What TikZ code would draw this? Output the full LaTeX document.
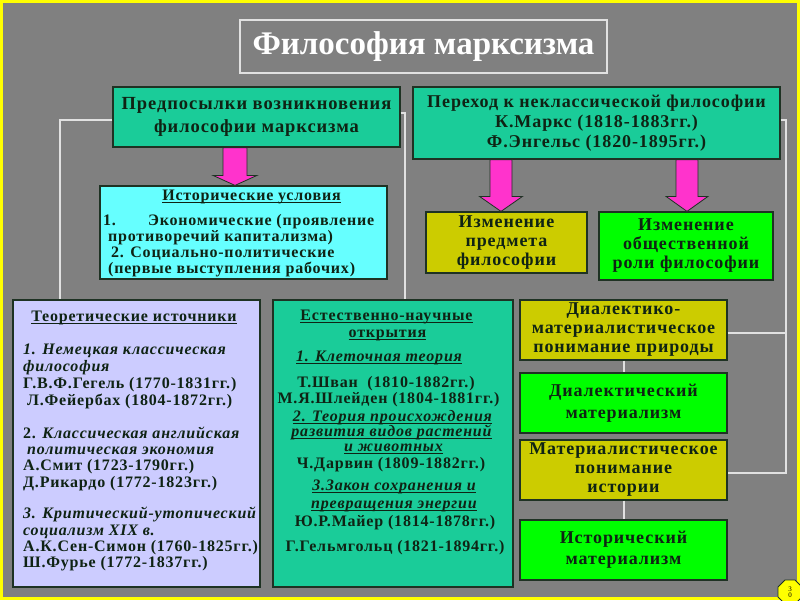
\documentclass[tikz,border=0pt]{standalone}
\usepackage{fontspec}
\setmainfont{Liberation Serif}[LetterSpace=5]
\newfontfamily\titlefont{Liberation Serif}
\usetikzlibrary{calc,shapes.geometric}
\definecolor{bg}{RGB}{128,128,128}
\definecolor{teal1}{RGB}{26,204,153}
\definecolor{cyan1}{RGB}{102,255,255}
\definecolor{olive1}{RGB}{204,204,0}
\definecolor{green1}{RGB}{0,255,0}
\definecolor{lav1}{RGB}{204,204,255}
\definecolor{pink1}{RGB}{255,51,204}
\definecolor{txt}{RGB}{15,35,20}
\definecolor{boxline}{RGB}{30,50,35}
\definecolor{connc}{RGB}{225,225,225}
\definecolor{frame1}{RGB}{255,255,0}
\newcommand\thul[1]{\leavevmode\setbox0\hbox{#1}\rlap{\vrule width\wd0 height -1.6pt depth 3pt}\box0}
\newcommand\fatarrow[6]{\draw[parrow] ($(#1.south -| #3)+(-#4,0)$) -- ($(#2.north -| #3)+(-#4,-#6)$) -- ($(#2.north -| #3)+(-#5,-#6)$) -- (#2.north -| #3) -- ($(#2.north -| #3)+(#5,-#6)$) -- ($(#2.north -| #3)+(#4,-#6)$) -- ($(#1.south -| #3)+(#4,0)$) -- cycle;}
\begin{document}
\begin{tikzpicture}[x=1pt,y=-1pt,
 box/.style={draw=boxline,line width=1.2pt,inner sep=0pt,align=center,text=txt,font=\bfseries\fontsize{18}{19}\selectfont},
 conn/.style={draw=connc,line width=2pt},
 parrow/.style={fill=pink1,draw=boxline,line width=0.8pt,line join=miter},
 tl/.style={inner sep=0pt,text=txt,font=\bfseries\fontsize{16}{16}\selectfont},
]
\useasboundingbox (0,0) rectangle (800,600);
\fill[bg] (0,0) rectangle (800,600);
\draw[frame1,line width=3pt] (1.5,1.5) rectangle (798.5,598.5);

% title
\node[draw=connc,line width=2pt,minimum width=367pt,minimum height=53pt,inner sep=0pt,text=white,font=\titlefont\bfseries\fontsize{33}{33}\selectfont] (title) at (423.5,46.5) {Философия марксизма};

% upper boxes
\node[box,fill=teal1,minimum width=287pt,minimum height=60pt,font=\bfseries\fontsize{18.5}{23}\selectfont] (pred) at (256.5,117) {Предпосылки возникновения\\философии марксизма};
\node[box,fill=teal1,minimum width=367pt,minimum height=72pt,font=\bfseries\fontsize{18}{20}\selectfont] (trans) at (596.5,123) {Переход к неклассической философии\\К.Маркс (1818-1883гг.)\\Ф.Энгельс (1820-1895гг.)};
\node[box,fill=cyan1,minimum width=287pt,minimum height=93pt] (hist) at (243.5,232.5) {};
\node[box,fill=olive1,minimum width=161pt,minimum height=61pt] (chsubj) at (506.5,242.5) {Изменение\\предмета\\философии};
\node[box,fill=green1,minimum width=174pt,minimum height=68pt] (chrole) at (686,246) {Изменение\\общественной\\роли философии};

% lower boxes
\node[box,fill=lav1,minimum width=247pt,minimum height=287pt] (theor) at (136.5,443.5) {};
\node[box,fill=teal1,minimum width=240pt,minimum height=287pt] (nat) at (393,443.5) {};
\node[box,fill=olive1,minimum width=207pt,minimum height=60pt] (dial) at (623.5,330) {Диалектико-\\материалистическое\\понимание природы};
\node[box,fill=green1,minimum width=207pt,minimum height=60pt,font=\bfseries\fontsize{18}{22}\selectfont] (dm) at (623.5,403) {Диалектический\\материализм};
\node[box,fill=olive1,minimum width=207pt,minimum height=60pt] (mat) at (623.5,470) {Материалистическое\\понимание\\истории};
\node[box,fill=green1,minimum width=207pt,minimum height=60pt,font=\bfseries\fontsize{18}{21}\selectfont] (hm) at (623.5,550) {Исторический\\материализм};

% historical conditions text
\node[tl,anchor=base] (h0) at (251.5,200) {\thul{Исторические условия}};
\node[tl,anchor=base west] (h1) at (103,225) {\makebox[45pt][l]{1.}Экономические (проявление};
\node[tl,anchor=base west] (h2) at (108,241.5) {противоречий капитализма)};
\node[tl,anchor=base west] (h3) at (111,257.5) {2. Социально-политические};
\node[tl,anchor=base west] (h4) at (108,273.5) {(первые выступления рабочих)};

% theoretical sources text
\node[tl,anchor=base] (t0) at (134,321) {\thul{Теоретические источники}};
\node[tl,anchor=base west] (t1) at (23,354) {\itshape 1. Немецкая классическая};
\node[tl,anchor=base west] (t2) at (23,371) {\itshape философия};
\node[tl,anchor=base west] (t3) at (23,388) {Г.В.Ф.Гегель (1770-1831гг.)};
\node[tl,anchor=base west] (t4) at (27,405) {Л.Фейербах (1804-1872гг.)};
\node[tl,anchor=base west] (t5) at (23,438) {2. \itshape Классическая английская};
\node[tl,anchor=base west] (t6) at (27,454) {\itshape политическая экономия};
\node[tl,anchor=base west] (t7) at (23,470) {А.Смит (1723-1790гг.)};
\node[tl,anchor=base west] (t8) at (23,487) {Д.Рикардо (1772-1823гг.)};
\node[tl,anchor=base west] (t9) at (23,518) {\itshape 3. Критический-утопический};
\node[tl,anchor=base west] (t10) at (23,535) {\itshape социализм XIX в.};
\node[tl,anchor=base west] (t11) at (23,551) {А.К.Сен-Симон (1760-1825гг.)};
\node[tl,anchor=base west] (t12) at (23,567) {Ш.Фурье (1772-1837гг.)};

% natural science text
\node[tl,anchor=base] (n0) at (386.5,320) {\thul{Естественно-научные}};
\node[tl,anchor=base] (n1) at (387.5,337) {\thul{открытия}};
\node[tl,anchor=base] (n2) at (379,361) {\thul{\itshape 1. Клеточная теория}};
\node[tl,anchor=base] (n3) at (386,387) {Т.Шван\ \ (1810-1882гг.)};
\node[tl,anchor=base] (n4) at (388.5,403) {М.Я.Шлейден (1804-1881гг.)};
\node[tl,anchor=base] (n5) at (392.5,421) {\thul{\itshape 2. Теория происхождения}};
\node[tl,anchor=base] (n6) at (391.5,436) {\thul{\itshape развития видов растений}};
\node[tl,anchor=base] (n7) at (393.5,451) {\thul{\itshape и животных}};
\node[tl,anchor=base] (n8) at (391,468) {Ч.Дарвин (1809-1882гг.)};
\node[tl,anchor=base] (n9) at (394,490) {\thul{\itshape 3.Закон сохранения и}};
\node[tl,anchor=base] (n10) at (394,508) {\thul{\itshape превращения энергии}};
\node[tl,anchor=base] (n11) at (395,526) {Ю.Р.Майер (1814-1878гг.)};
\node[tl,anchor=base] (n12) at (395,551) {Г.Гельмгольц (1821-1894гг.)};

% connectors
\coordinate (cl) at (60,0);
\coordinate (cr) at (405,0);
\coordinate (cR) at (786,0);
\draw[conn] ($(pred.west)+(0,3)$) -| (theor.north -| cl);
\draw[conn] ($(pred.east)+(0,-4)$) -| (nat.north -| cr);
\draw[conn] ($(trans.east)+(0,-3)$) -| ($(mat.east -| cR)+(0,3)$) -- ($(mat.east)+(0,3)$);
\draw[conn] ($(dial.east)+(0,3)$) -- ($(dial.east -| cR)+(0,3)$);
\draw[conn] (dial.south) -- (dm.north);
\draw[conn] (mat.south) -- (hm.north);

% pink arrows
\coordinate (a1) at (235,0);
\coordinate (a2) at (501,0);
\coordinate (a3) at (687,0);
\fatarrow{pred}{hist}{a1}{12}{22}{10}
\fatarrow{trans}{chsubj}{a2}{11}{21.5}{15}
\fatarrow{trans}{chrole}{a3}{11}{21}{15}

% page mark
\node[regular polygon,regular polygon sides=8,minimum size=26pt,inner sep=0pt,fill=frame1,draw=boxline,line width=0.8pt,align=center,font=\titlefont\fontsize{7}{6}\selectfont] (pg) at (790,592) {3\\0};
\end{tikzpicture}
\end{document}
